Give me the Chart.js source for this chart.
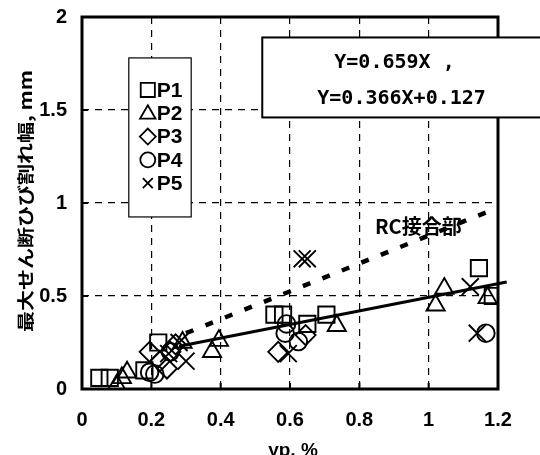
<!DOCTYPE html>
<html><head><meta charset="utf-8">
<script src="https://cdn.jsdelivr.net/npm/chart.js@4.4.0/dist/chart.umd.min.js"></script>
<style>html,body{margin:0;padding:0;background:#fff}</style>
</head><body>
<canvas id="c" width="540" height="455"></canvas>
<script>
// ---- data ----
const xTickLabels = ['0', '0.2', '0.4', '0.6', '0.8', '1', '1.2'];
const yTickLabels = ['0', '0.5', '1', '1.5', '2'];
const seriesNames = ['P1', 'P2', 'P3', 'P4', 'P5'];

const p1X = [0.05, 0.08, 0.18, 0.22, 0.555, 0.58, 0.65, 0.705, 1.145, 1.185];
const p1Y = [0.06, 0.06, 0.10, 0.25, 0.40, 0.40, 0.35, 0.40, 0.65, 0.50];

const p2X = [0.10, 0.115, 0.13, 0.29, 0.375, 0.395, 0.735, 1.02, 1.045, 1.17];
const p2Y = [0.02, 0.06, 0.09, 0.25, 0.20, 0.26, 0.34, 0.45, 0.54, 0.49];

const p3X = [0.195, 0.225, 0.245, 0.255, 0.27, 0.566, 0.645];
const p3Y = [0.20, 0.15, 0.11, 0.20, 0.24, 0.20, 0.29];

const p4X = [0.195, 0.21, 0.255, 0.586, 0.59, 0.624, 1.165];
const p4Y = [0.09, 0.08, 0.20, 0.30, 0.35, 0.255, 0.30];

const p5X = [0.25, 0.28, 0.30, 0.595, 0.635, 0.65, 1.12, 1.14];
const p5Y = [0.19, 0.25, 0.15, 0.19, 0.70, 0.70, 0.55, 0.30];

const fitX = [0.28, 1.225];
const fitY = [0.23, 0.575];
const rcX = [0.30, 1.20];
const rcY = [0.30, 0.975];

const equationLines = ['Y=0.659X ,', 'Y=0.366X+0.127'];
const rcLabel = 'RC接合部';
const xTitle = 'γp, %';
const yTitle = '最大せん断ひび割れ幅, mm';

// ---- styling ----
const pts = (xs, ys) => xs.map((x, i) => ({x: x, y: ys[i]}));
const markerStyles = ['rect', 'triangle', 'rectRot', 'circle', 'crossRot'];
const markerRadius = [11.5, 10.5, 10, 8.8, 12];
const legendRadius = [10, 9, 8, 7.5, 7];
const seriesX = [p1X, p2X, p3X, p4X, p5X];
const seriesY = [p1Y, p2Y, p3Y, p4Y, p5Y];
const narrowFam = "'Liberation Sans Narrow', 'Liberation Sans', Arial, sans-serif";
const tickFont = {family: narrowFam, size: 20, weight: 'bold'};

const datasets = [];
seriesNames.forEach((name, i) => {
  datasets.push({
    label: name,
    data: pts(seriesX[i], seriesY[i]),
    showLine: false,
    pointStyle: markerStyles[i],
    pointRadius: markerRadius[i],
    pointBorderWidth: 1.9,
    pointBorderColor: '#000',
    pointBackgroundColor: 'rgba(0,0,0,0)',
    order: 1
  });
});
datasets.push({
  label: 'fit', data: pts(fitX, fitY), showLine: true, pointRadius: 0,
  borderColor: '#000', borderWidth: 3, clip: false, order: 2
});
datasets.push({
  label: 'RC', data: pts(rcX, rcY), showLine: true, pointRadius: 0,
  borderColor: '#000', borderWidth: 4.5, borderDash: [8, 13], borderCapStyle: 'butt', clip: false, order: 2
});

const decor = {
  id: 'decor',
  afterDraw(chart) {
    const ctx = chart.ctx, a = chart.chartArea;
    const xs = chart.scales.x, ys = chart.scales.y;
    ctx.save();
    // inward tick marks
    ctx.strokeStyle = '#000'; ctx.lineWidth = 2; ctx.setLineDash([]);
    xTickLabels.forEach(t => {
      const px = xs.getPixelForValue(parseFloat(t));
      ctx.beginPath(); ctx.moveTo(px, a.bottom); ctx.lineTo(px, a.bottom - 6); ctx.stroke();
    });
    yTickLabels.forEach(t => {
      const py = ys.getPixelForValue(parseFloat(t));
      ctx.beginPath(); ctx.moveTo(a.left, py); ctx.lineTo(a.left + 6, py); ctx.stroke();
    });
    // frame
    ctx.lineWidth = 3;
    ctx.strokeRect(a.left, a.top, a.right - a.left, a.bottom - a.top);

    // RC label
    ctx.fillStyle = '#000';
    ctx.font = "bold 20px 'Noto Sans CJK JP', sans-serif";
    ctx.textAlign = 'center'; ctx.textBaseline = 'middle';
    ctx.fillText(rcLabel, xs.getPixelForValue(0.97), ys.getPixelForValue(0.875));

    // equation box
    const bx = xs.getPixelForValue(0.52), by = ys.getPixelForValue(1.89), bb = ys.getPixelForValue(1.46);
    ctx.fillStyle = '#fff';
    ctx.fillRect(bx, by, 600, bb - by);
    ctx.lineWidth = 2; ctx.strokeStyle = '#000';
    ctx.strokeRect(bx, by, 600, bb - by);
    ctx.fillStyle = '#000';
    ctx.font = "bold 20px 'DejaVu Sans Mono', monospace";
    ctx.textAlign = 'left'; ctx.textBaseline = 'middle';
    ctx.fillText(equationLines[0], bx + 72, by + 25);
    ctx.fillText(equationLines[1], bx + 55, by + 61);

    // legend box
    const lx = xs.getPixelForValue(0.135), lr = xs.getPixelForValue(0.315);
    const ly = ys.getPixelForValue(1.78), lb = ys.getPixelForValue(0.925);
    ctx.fillStyle = '#fff';
    ctx.fillRect(lx, ly, lr - lx, lb - ly);
    ctx.lineWidth = 1.2;
    ctx.strokeRect(lx, ly, lr - lx, lb - ly);
    ctx.font = "bold 21px " + narrowFam;
    ctx.textAlign = 'left'; ctx.textBaseline = 'middle';
    seriesNames.forEach((name, i) => {
      const yy = ly + 32 + i * 23.3;
      ctx.strokeStyle = '#000'; ctx.fillStyle = 'rgba(0,0,0,0)'; ctx.lineWidth = 1.8;
      Chart.helpers.drawPoint(ctx, {pointStyle: markerStyles[i], radius: legendRadius[i], borderWidth: 1.8, rotation: 0}, lx + 19, yy + (i === 1 ? 1 : 0));
      ctx.fillStyle = '#000';
      ctx.fillText(name, lx + 28, yy + 1);
    });

    // axis titles
    ctx.fillStyle = '#000';
    ctx.font = "bold 19px " + narrowFam;
    ctx.textAlign = 'center'; ctx.textBaseline = 'middle';
    ctx.fillText(xTitle, 293, 451);

    ctx.save();
    ctx.translate(26, 201);
    ctx.rotate(-Math.PI / 2);
    ctx.scale(1, 0.8);
    ctx.font = "bold 21px 'Noto Sans CJK JP', sans-serif";
    ctx.fillText(yTitle, 0, 0);
    ctx.restore();
    ctx.restore();
  }
};

const zeroPad = s => { s.paddingTop = 0; s.paddingBottom = 0; s.paddingLeft = 0; s.paddingRight = 0; };

new Chart(document.getElementById('c'), {
  type: 'scatter',
  data: {datasets: datasets},
  options: {
    responsive: false, animation: false, devicePixelRatio: 1,
    layout: {padding: {top: 17, right: 42, left: 0, bottom: 0}},
    plugins: {legend: {display: false}, tooltip: {enabled: false}},
    scales: {
      x: {
        type: 'linear', min: 0, max: 1.2,
        afterFit: s => { s.height = 66; zeroPad(s); },
        afterBuildTicks: s => { s.ticks = xTickLabels.map(v => ({value: parseFloat(v)})); },
        ticks: {callback: (v, i) => xTickLabels[i], font: tickFont, color: '#000', padding: 19, maxRotation: 0, autoSkip: false},
        grid: {color: '#000', lineWidth: 1.2, drawTicks: false},
        border: {display: false, dash: [7, 6]}
      },
      y: {
        type: 'linear', min: 0, max: 2,
        afterFit: s => { s.width = 82; zeroPad(s); },
        afterBuildTicks: s => { s.ticks = yTickLabels.map(v => ({value: parseFloat(v)})); },
        ticks: {callback: (v, i) => yTickLabels[i], font: tickFont, color: '#000', padding: 15, autoSkip: false},
        grid: {color: '#000', lineWidth: 1.2, drawTicks: false},
        border: {display: false, dash: [7, 6]}
      }
    }
  },
  plugins: [decor]
});
</script>
</body></html>
